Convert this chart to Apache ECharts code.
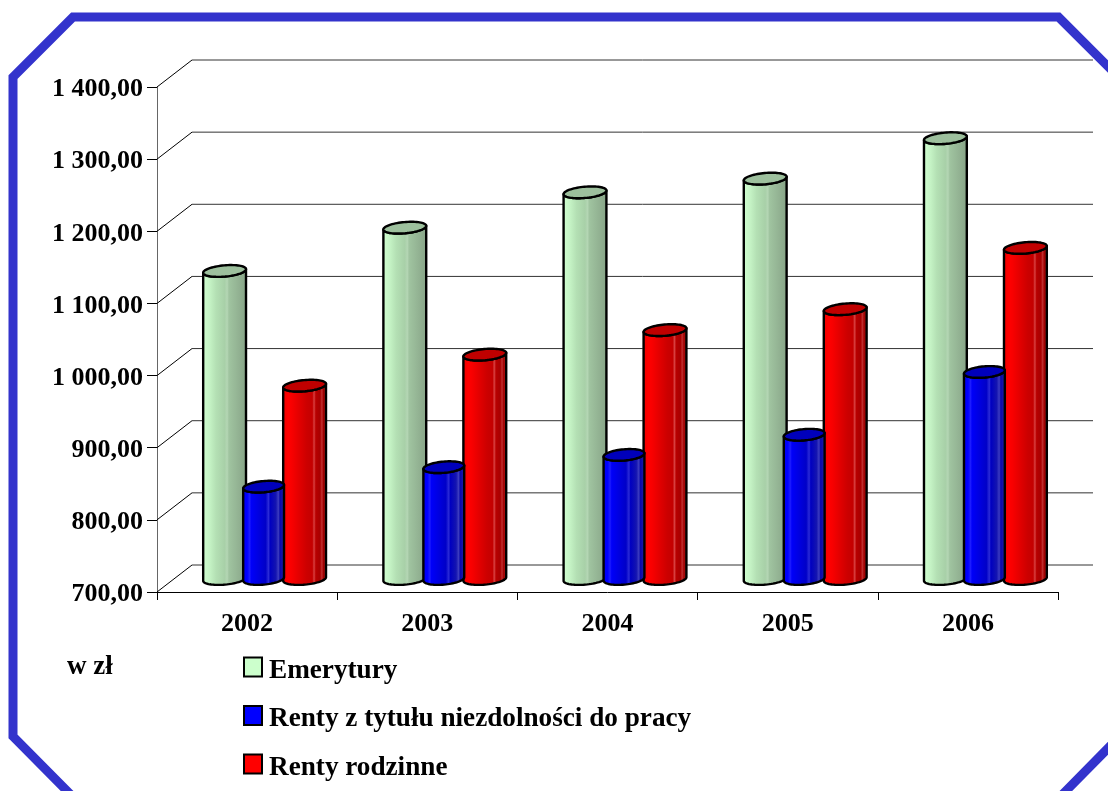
<!DOCTYPE html>
<html>
<head>
<meta charset="utf-8">
<style>html,body{margin:0;padding:0;background:#fff}#c{width:1108px;height:791px}</style>
<script src="https://cdn.jsdelivr.net/npm/echarts@6/dist/echarts.min.js"></script>
</head>
<body>
<div id="c"></div>
<script>
const categories = ['2002', '2003', '2004', '2005', '2006'];
const emerytury = [1127, 1187, 1236, 1255, 1311];
const rentyNiezdolnosc = [828, 855, 872, 900, 987];
const rentyRodzinne = [968, 1011, 1045, 1074, 1159];
const gridValues = [700, 800, 900, 1000, 1100, 1200, 1300, 1400];
const seriesNames = ['Emerytury', 'Renty z tytułu niezdolności do pracy', 'Renty rodzinne'];

const FONT = '"Liberation Serif","Times New Roman",serif';
const DEPTH_X = 35, DEPTH_Y = -27;
const BAR_DX = 17.5, BAR_DY = -13;   // cylinders stand half-way in depth
const RY = 5.6, TILT = -0.09;

function stops(list) {
  return list.map(function (s) { return { offset: s[0], color: s[1] }; });
}
const greenStops = stops([[0,'#d0ffd0'],[0.16,'#c4f2c4'],[0.3,'#b4e0b4'],[0.5,'#a8d0a8'],[0.56,'#b4d6b4'],[0.6,'#a0c4a0'],[0.8,'#94b494'],[0.96,'#8aa88a'],[1,'#86a286']]);
const blueStops = stops([[0,'#0000f0'],[0.1,'#0000ff'],[0.16,'#1c1cff'],[0.2,'#0000f8'],[0.55,'#0000c8'],[0.62,'#2a2ad8'],[0.66,'#0000c0'],[0.8,'#1414b0'],[0.86,'#3c3cc0'],[0.9,'#0808a8'],[1,'#2020a8']]);
const redStops = stops([[0,'#f00000'],[0.12,'#ff0000'],[0.2,'#f80000'],[0.55,'#cc0000'],[0.68,'#c40000'],[0.72,'#d84040'],[0.76,'#b80000'],[0.86,'#a80000'],[0.9,'#c03030'],[0.94,'#a00000'],[1,'#b82020']]);

function ellipsePoint(cx, cy, rx, t) {
  const ex = rx * Math.cos(t), ey = RY * Math.sin(t);
  return [cx + ex * Math.cos(TILT) - ey * Math.sin(TILT), cy + ex * Math.sin(TILT) + ey * Math.cos(TILT)];
}
function cylinderRender(shift, rx, side, top) {
  return function (params, api) {
    const idx = api.value(0);
    const val = api.value(1);
    const c = api.coord([idx, val]);
    const b = api.coord([idx, 700]);
    const cx = c[0] + BAR_DX + shift;
    const topY = c[1] + BAR_DY, baseY = b[1] + BAR_DY;
    const body = [];
    for (let i = 0; i <= 36; i++) body.push(ellipsePoint(cx, baseY, rx, Math.PI * i / 36));
    for (let i = 36; i >= 0; i--) body.push(ellipsePoint(cx, topY, rx, Math.PI * i / 36));
    const cap = [];
    for (let i = 0; i < 72; i++) cap.push(ellipsePoint(cx, topY, rx, 2 * Math.PI * i / 72));
    return {
      type: 'group',
      children: [
        { type: 'polygon', shape: { points: body },
          style: { fill: { type: 'linear', x: cx - rx, y: 0, x2: cx + rx, y2: 0, global: true, colorStops: side },
                   stroke: '#000', lineWidth: 2.4, lineJoin: 'round' } },
        { type: 'polygon', shape: { points: cap },
          style: { fill: top, stroke: '#000', lineWidth: 2.4 } }
      ]
    };
  };
}
function wallRender(params, api) {
  const cs = params.coordSys;
  const y = api.coord([0, api.value(0)])[1];
  const x0 = cs.x, x1 = cs.x + cs.width;
  return {
    type: 'group',
    children: [
      { type: 'line', shape: { x1: x0, y1: y, x2: x0 + DEPTH_X, y2: y + DEPTH_Y },
        style: { stroke: '#000', lineWidth: 1 } },
      { type: 'line', shape: { x1: x0 + DEPTH_X, y1: y + DEPTH_Y, x2: x1 + DEPTH_X, y2: y + DEPTH_Y },
        style: { stroke: '#333', lineWidth: 1 } }
    ]
  };
}
function seriesData(values) {
  return values.map(function (v, i) { return [i, v]; });
}

const chart = echarts.init(document.getElementById('c'), null, { renderer: 'canvas' });
chart.setOption({
  animation: false,
  backgroundColor: '#fff',
  grid: { left: 157, right: 50, top: 87, bottom: 199, containLabel: false },
  xAxis: {
    type: 'category', data: categories,
    axisLine: { lineStyle: { color: '#000', width: 1 } },
    axisTick: { show: true, length: 8, alignWithLabel: false, lineStyle: { color: '#000' } },
    axisLabel: { color: '#000', fontFamily: FONT, fontWeight: 'bold', fontSize: 26, margin: 19 },
    splitLine: { show: false }
  },
  yAxis: {
    type: 'value', min: 700, max: 1400, interval: 100,
    axisLine: { show: true, lineStyle: { color: '#666', width: 1 } },
    axisTick: { show: true, length: 10, lineStyle: { color: '#000' } },
    axisLabel: {
      color: '#000', fontFamily: FONT, fontWeight: 'bold', fontSize: 26, margin: 14,
      rich: { a: { color: '#000', fontFamily: FONT, fontWeight: 'bold', fontSize: 26, padding: [5, 0, 0, 0] } },
      formatter: function (v) {
        const s = v >= 1000 ? Math.floor(v / 1000) + ' ' + String(v % 1000).padStart(3, '0') + ',00' : v + ',00';
        return '{a|' + s + '}';
      }
    },
    splitLine: { show: false }
  },
  legend: {
    show: true, orient: 'vertical', left: 243, top: 650, height: 141, padding: 0,
    data: seriesNames, selectedMode: false,
    itemWidth: 18, itemHeight: 19, itemGap: 14.5,
    icon: 'rect',
    itemStyle: { borderColor: '#000', borderWidth: 2 },
    formatter: function (name) { return '{a|' + name + '}'; },
    textStyle: {
      color: '#000', fontFamily: FONT, fontWeight: 'bold', fontSize: 27.2,
      rich: { a: { color: '#000', fontFamily: FONT, fontWeight: 'bold', fontSize: 27.2, padding: [7, 0, 0, 2], lineHeight: 29.5 } }
    }
  },
  graphic: [
    { type: 'polygon', silent: true, z: 0,
      shape: { points: [[73, 17], [1058.5, 17], [1128, 86.5], [1128, 728], [1056, 801], [77, 801], [13, 736.5], [13, 77]] },
      style: { fill: 'none', stroke: '#3333cc', lineWidth: 9, lineJoin: 'miter' } },
    { type: 'text', x: 67, y: 654, silent: true,
      style: { text: 'w zł', fill: '#000', font: 'bold 27px ' + FONT } }
  ],
  series: [
    { type: 'custom', name: 'wall', silent: true, z: 1, data: gridValues.map(function (v) { return [v]; }),
      encode: { y: 0 }, renderItem: wallRender, legendHoverLink: false, tooltip: { show: false } },
    { type: 'custom', name: seriesNames[0], z: 3, data: seriesData(emerytury), encode: { x: 0, y: 1 },
      itemStyle: { color: '#ccffcc' }, renderItem: cylinderRender(-40, 21.5, greenStops, '#9dc09d') },
    { type: 'custom', name: seriesNames[1], z: 5, data: seriesData(rentyNiezdolnosc), encode: { x: 0, y: 1 },
      itemStyle: { color: '#0000ff' }, renderItem: cylinderRender(-1, 20.5, blueStops, '#0000bb') },
    { type: 'custom', name: seriesNames[2], z: 4, data: seriesData(rentyRodzinne), encode: { x: 0, y: 1 },
      itemStyle: { color: '#ff0000' }, renderItem: cylinderRender(40, 21.5, redStops, '#c00000') }
  ]
});
</script>
</body>
</html>
